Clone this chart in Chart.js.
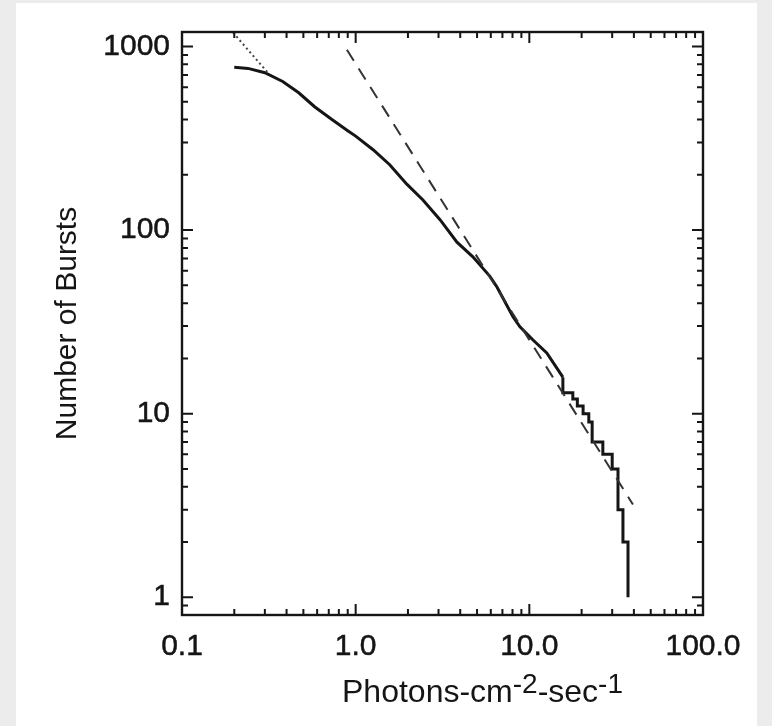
<!DOCTYPE html>
<html lang="en">
<head>
<meta charset="UTF-8">
<title>Number of Bursts</title>
<script src="https://cdn.jsdelivr.net/npm/chart.js@4.4.1/dist/chart.umd.min.js"></script>
<style>
  html, body { margin: 0; padding: 0; background: #ececec; }
  #sheet { position: absolute; left: 16px; top: 3px; width: 741px; height: 723px; background: #fff; }
  #burstChart { position: absolute; left: 0; top: 0; }
</style>
</head>
<body>
<div id="sheet"></div>
<canvas id="burstChart" width="772" height="726"></canvas>
<script>
// cumulative burst counts against peak flux (photons cm^-2 s^-1)
const fluxUpper = [0.20, 0.24, 0.30, 0.38, 0.47, 0.58, 0.73, 0.90, 1.0, 1.26, 1.57, 1.97, 2.44, 3.06, 3.83, 4.73, 5.93, 6.51, 8.05, 8.83, 10.5, 12.6, 15.6];
const burstsUpper = [770, 760, 720, 645, 560, 470, 400, 348, 325, 274, 227, 178, 146, 114, 86, 71.5, 56, 49, 33.7, 29.7, 25.2, 21.4, 15.8];

// faint end drawn as a histogram staircase
const fluxTail = [15.6, 15.6, 17.8, 18.9, 20.4, 22.0, 23.0, 26.5, 30.0, 32.4, 34.6, 37.0];
const burstsTail = [15.8, 13, 12, 11, 10, 9, 7, 6, 5, 3, 2, 1];

// -3/2 power law reference line
const slopeFlux = [0.89, 39.5];
const slopeBursts = [960, 3.2];

// dotted extension at the bright end
const dotFlux = [0.197, 0.31];
const dotBursts = [1190, 725];

const xTicks = [0.1, 1, 10, 100];
const yTicks = [1, 10, 100, 1000];

const FONT = '"Liberation Sans", Arial, Helvetica, sans-serif';
const INK = '#151515';

function pairs(xs, ys) {
    return xs.map((v, i) => ({x: v, y: ys[i]}));
}

// minor tick values for a log axis between lo and hi
function logMinor(lo, hi) {
    let out = [];
    for (let d = -2; d <= 4; d++) {
        for (let k = 1; k <= 9; k++) {
            let v = k * Math.pow(10, d);
            if (v >= lo * 0.999 && v <= hi * 1.001) out.push(v);
        }
    }
    return out;
}
function isDecade(v) {
    let l = Math.log10(v);
    return Math.abs(l - Math.round(l)) < 1e-6;
}

// box around the plot with inward ticks on all four sides, plus the x title
const frame = {
    id: 'frame',
    afterDraw(chart) {
        const {ctx, chartArea: a, scales: {x, y}} = chart;
        ctx.save();
        ctx.strokeStyle = INK;
        ctx.lineWidth = 2.4;
        ctx.strokeRect(a.left, a.top, a.right - a.left, a.bottom - a.top);

        ctx.lineWidth = 2;
        ctx.beginPath();
        logMinor(x.min, x.max).forEach(v => {
            const px = x.getPixelForValue(v);
            const len = isDecade(v) ? 11 : 6;
            ctx.moveTo(px, a.bottom); ctx.lineTo(px, a.bottom - len);
            ctx.moveTo(px, a.top); ctx.lineTo(px, a.top + len);
        });
        logMinor(y.min, y.max).forEach(v => {
            const py = y.getPixelForValue(v);
            const len = isDecade(v) ? 11 : 6;
            ctx.moveTo(a.left, py); ctx.lineTo(a.left + len, py);
            ctx.moveTo(a.right, py); ctx.lineTo(a.right - len, py);
        });
        ctx.stroke();

        // Photons-cm^-2-sec^-1
        const parts = [['Photons-cm', false], ['-2', true], ['-sec', false], ['-1', true]];
        const mainFont = '32px ' + FONT;
        const supFont = '28px ' + FONT;
        let total = 0;
        parts.forEach(p => {
            ctx.font = p[1] ? supFont : mainFont;
            total += ctx.measureText(p[0]).width;
        });
        let cx = (a.left + a.right) / 2 + 40 - total / 2;
        const base = a.bottom + 87;
        ctx.fillStyle = INK;
        ctx.textBaseline = 'alphabetic';
        ctx.textAlign = 'left';
        parts.forEach(p => {
            ctx.font = p[1] ? supFont : mainFont;
            ctx.fillText(p[0], cx, p[1] ? base - 9 : base);
            cx += ctx.measureText(p[0]).width;
        });
        ctx.restore();
    }
};

const ctx = document.getElementById('burstChart').getContext('2d');

new Chart(ctx, {
    type: 'line',
    data: {
        datasets: [
            {
                data: pairs(dotFlux, dotBursts),
                borderColor: '#444',
                borderWidth: 2,
                borderDash: [2, 3],
                pointRadius: 0
            },
            {
                data: pairs(slopeFlux, slopeBursts),
                borderColor: '#333',
                borderWidth: 2,
                borderDash: [13, 9],
                pointRadius: 0
            },
            {
                data: pairs(fluxUpper, burstsUpper),
                borderColor: INK,
                borderWidth: 3,
                pointRadius: 0
            },
            {
                data: pairs(fluxTail, burstsTail),
                borderColor: INK,
                borderWidth: 3,
                pointRadius: 0,
                stepped: 'before'
            }
        ]
    },
    options: {
        responsive: false,
        animation: false,
        layout: {padding: {top: 32, right: 69, bottom: 0, left: 0}},
        plugins: {
            legend: {display: false},
            tooltip: {enabled: false}
        },
        scales: {
            x: {
                type: 'logarithmic',
                min: 0.1,
                max: 100,
                grid: {display: false, drawTicks: false},
                border: {display: false},
                afterBuildTicks: s => { s.ticks = xTicks.map(v => ({value: v})); },
                afterFit: s => { s.height = 111; },
                ticks: {
                    autoSkip: false,
                    maxRotation: 0,
                    padding: 14,
                    color: INK,
                    textStrokeColor: INK,
                    textStrokeWidth: 0.5,
                    font: {family: FONT, size: 30},
                    callback: v => Number(v).toFixed(1)
                }
            },
            y: {
                type: 'logarithmic',
                min: 0.8,
                max: 1200,
                grid: {display: false, drawTicks: false},
                border: {display: false},
                afterBuildTicks: s => { s.ticks = yTicks.map(v => ({value: v})); },
                afterFit: s => { s.width = 182; },
                ticks: {
                    autoSkip: false,
                    padding: 12,
                    color: INK,
                    textStrokeColor: INK,
                    textStrokeWidth: 0.5,
                    font: {family: FONT, size: 30},
                    callback: v => String(v)
                },
                title: {
                    display: true,
                    text: 'Number of Bursts',
                    color: INK,
                    font: {family: FONT, size: 30},
                    padding: {top: 50, bottom: 0}
                }
            }
        }
    },
    plugins: [frame]
});
</script>
</body>
</html>
